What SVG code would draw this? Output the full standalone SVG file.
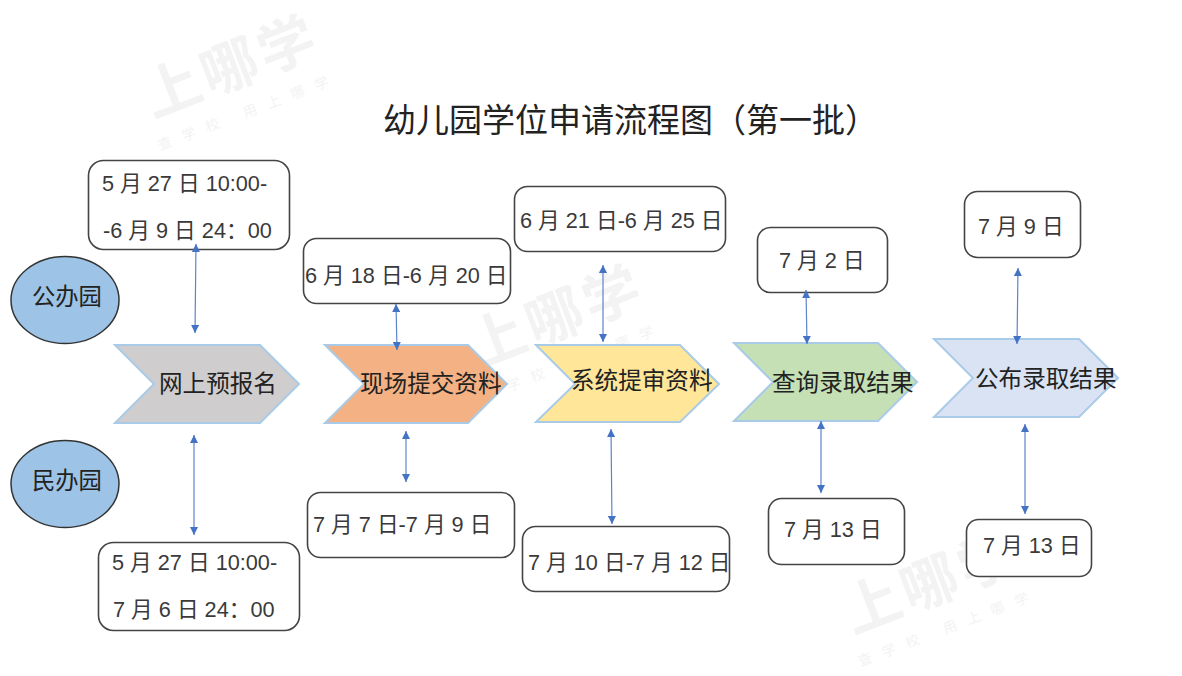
<svg xmlns="http://www.w3.org/2000/svg" width="1182" height="676" viewBox="0 0 1182 676">
<style>
text{font-family:"Liberation Sans","Noto Sans CJK SC",sans-serif;fill:#3a3a3a}
.cjk{font-family:"Noto Sans CJK SC",sans-serif}
.box{fill:#fff;stroke:#444;stroke-width:1.6}
.chev{stroke:#a9cbe8;stroke-width:2}
.oval{fill:#9dc3e6;stroke:#333;stroke-width:1.5}
.d{font-size:21.7px}
.s{font-size:23.6px;font-family:"Noto Sans CJK SC",sans-serif;fill:#222}
.line{stroke:#5b84cc;stroke-width:1.2;fill:none;marker-start:url(#a);marker-end:url(#a)}
.wm{font-family:"Noto Sans CJK SC",sans-serif;fill:#f3f3f3;font-weight:700;font-size:57px;letter-spacing:4px}
.wm2{font-family:"Noto Sans CJK SC",sans-serif;fill:#f3f3f3;font-size:14px;letter-spacing:11.5px}
</style>
<defs>
<marker id="a" markerWidth="9" markerHeight="8" refX="8" refY="4" orient="auto-start-reverse" markerUnits="userSpaceOnUse"><path d="M0 0L8 4L0 8Z" fill="#4472c4"/></marker>
</defs>
<rect width="1182" height="676" fill="#fff"/>
<g id="watermarks">
<g transform="translate(153 118) rotate(-21)"><text class="wm" x="0" y="0">上哪学</text><text class="wm2" x="-5" y="33">查学校 用上哪学</text></g>
<g transform="translate(478 368) rotate(-21)"><text class="wm" x="0" y="0">上哪学</text><text class="wm2" x="-5" y="33">查学校 用上哪学</text></g>
<g transform="translate(853 634) rotate(-21)"><text class="wm" x="0" y="0">上哪学</text><text class="wm2" x="-5" y="33">查学校 用上哪学</text></g>
</g>
<text id="title" class="cjk" x="383" y="132" font-size="33" style="fill:#222">幼儿园学位申请流程图（第一批）</text>
<g id="oval-public"><ellipse class="oval" cx="65" cy="300" rx="54" ry="43.500"/><text x="32" y="305" class="s" style="font-size:23.300px">公办园</text></g>
<g id="oval-private"><ellipse class="oval" cx="65" cy="484" rx="54" ry="43.500"/><text x="32" y="489" class="s" style="font-size:23.300px">民办园</text></g>
<g id="step1"><path class="chev" fill="#cfcdcd" d="M115 345H260L299 384L260 423H115L154 384Z"/><text class="s" x="159" y="392">网上预报名</text></g>
<g id="step2"><path class="chev" fill="#f4b183" d="M325 345H468L507 384L468 423H325L364 384Z"/><text class="s" x="360" y="392">现场提交资料</text></g>
<g id="step3"><path class="chev" fill="#ffe699" d="M536 345H680L719 384L680 422H536L575 384Z"/><text class="s" x="571" y="389">系统提审资料</text></g>
<g id="step4"><path class="chev" fill="#c5e0b4" d="M734 343H878L917 382L878 421H734L773 382Z"/><text class="s" x="772" y="391">查询录取结果</text></g>
<g id="step5"><path class="chev" fill="#dae3f3" d="M934 339H1079L1118 378L1079 417H934L973 378Z"/><text class="s" x="975" y="387">公布录取结果</text></g>
<g id="pub1"><rect class="box" x="88.500" y="160.500" width="201" height="89" rx="15"/><text class="d" x="102" y="191">5 月 27 日 10:00-</text><text class="d" x="103" y="238">-6 月 9 日 24：00</text></g>
<g id="pub2"><rect class="box" x="303.500" y="238.500" width="207" height="65" rx="13"/><text class="d" x="305" y="283">6 月 18 日-6 月 20 日</text></g>
<g id="pub3"><rect class="box" x="514.500" y="186.500" width="211" height="65" rx="13"/><text class="d" x="520" y="228">6 月 21 日-6 月 25 日</text></g>
<g id="pub4"><rect class="box" x="757.500" y="227.500" width="130" height="65" rx="13"/><text class="d" x="779" y="268">7 月 2 日</text></g>
<g id="pub5"><rect class="box" x="964.500" y="191.500" width="116" height="66" rx="13"/><text class="d" x="978" y="234">7 月 9 日</text></g>
<g id="pri1"><rect class="box" x="98.500" y="542.500" width="201" height="88" rx="15"/><text class="d" x="112" y="570">5 月 27 日 10:00-</text><text class="d" x="113" y="617">7 月 6 日 24：00</text></g>
<g id="pri2"><rect class="box" x="307.500" y="492.500" width="207" height="65" rx="13"/><text class="d" x="313" y="532">7 月 7 日-7 月 9 日</text></g>
<g id="pri3"><rect class="box" x="522.500" y="526.500" width="207" height="65" rx="13"/><text class="d" x="528" y="570">7 月 10 日-7 月 12 日</text></g>
<g id="pri4"><rect class="box" x="768.500" y="498.500" width="136" height="66" rx="13"/><text class="d" x="784" y="537">7 月 13 日</text></g>
<g id="pri5"><rect class="box" x="966.500" y="519.500" width="125" height="57" rx="12"/><text class="d" x="983" y="553">7 月 13 日</text></g>
<g id="connectors">
<line class="line" x1="196" y1="244" x2="195" y2="333"/>
<line class="line" x1="396" y1="304" x2="397" y2="350"/>
<line class="line" x1="603" y1="265" x2="603" y2="342"/>
<line class="line" x1="806" y1="290" x2="807" y2="344"/>
<line class="line" x1="1018" y1="268" x2="1017" y2="344"/>
<line class="line" x1="194" y1="435" x2="194" y2="535"/>
<line class="line" x1="406" y1="431" x2="406" y2="482"/>
<line class="line" x1="611" y1="429" x2="612" y2="524"/>
<line class="line" x1="821" y1="421" x2="821" y2="493"/>
<line class="line" x1="1025" y1="424" x2="1025" y2="514"/>
</g>
</svg>
